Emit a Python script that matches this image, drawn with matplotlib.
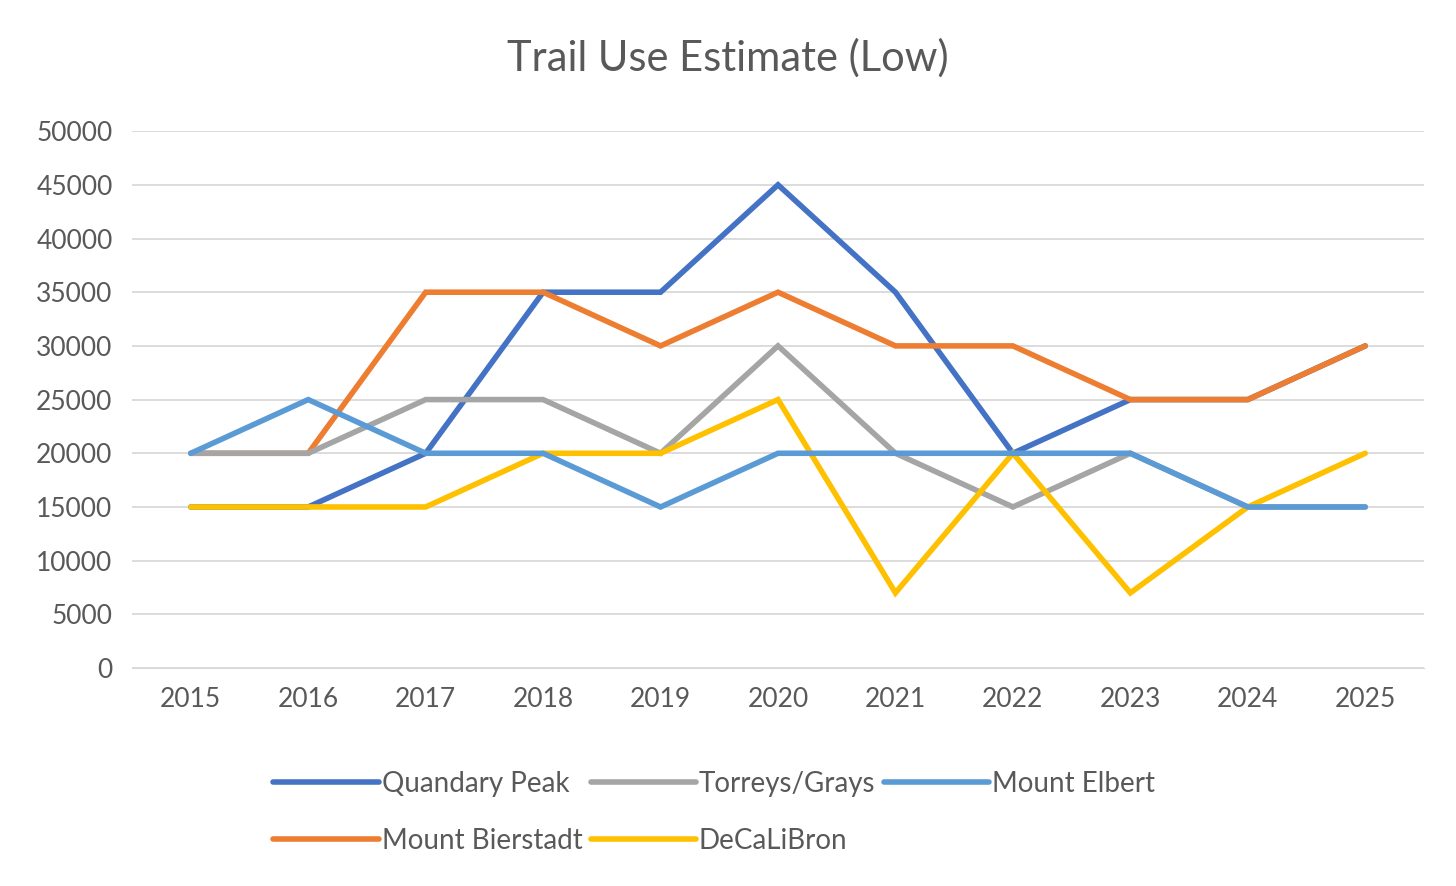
import matplotlib.pyplot as plt

years = list(range(2015, 2026))
quandary = [15000, 15000, 20000, 35000, 35000, 45000, 35000, 20000, 25000, 25000, 30000]
bierstadt = [20000, 20000, 35000, 35000, 30000, 35000, 30000, 30000, 25000, 25000, 30000]
torreys = [20000, 20000, 25000, 25000, 20000, 30000, 20000, 15000, 20000, 15000, 15000]
decalibron = [15000, 15000, 15000, 20000, 20000, 25000, 7000, 20000, 7000, 15000, 20000]
elbert = [20000, 25000, 20000, 20000, 15000, 20000, 20000, 20000, 20000, 15000, 15000]

series = [
    ("Quandary Peak", quandary, "#4472C4"),
    ("Mount Bierstadt", bierstadt, "#ED7D31"),
    ("Torreys/Grays", torreys, "#A5A5A5"),
    ("DeCaLiBron", decalibron, "#FFC000"),
    ("Mount Elbert", elbert, "#5B9BD5"),
]

plt.rcParams['font.family'] = ['Lato', 'DejaVu Sans']
fig = plt.figure(figsize=(14.56, 8.86), dpi=100)
ax = fig.add_axes([0.0907, 0.246, 0.8873, 0.606])

for name, vals, col in series:
    ax.plot(years, vals, color=col, lw=4, label=name, solid_capstyle='round', solid_joinstyle='miter')

ax.set_xlim(2014.5, 2025.5)
ax.set_ylim(0, 50000)
ax.set_yticks(range(0, 50001, 5000))
ax.set_xticks(years)
ax.grid(axis='y', color='#D9D9D9', lw=1.3)
ax.set_axisbelow(True)
for s in ['top', 'right', 'left']:
    ax.spines[s].set_visible(False)
ax.spines['bottom'].set_color('#D9D9D9')
ax.tick_params(length=0, labelsize=19, colors='#595959', pad=14)

fig.text(0.5, 0.935, "Trail Use Estimate (Low)", ha='center', va='center', fontsize=30, color='#595959')

fig.legend(loc='upper left', bbox_to_anchor=(0.18, 0.145 + 0.0), ncol=3, frameon=False,
           fontsize=20, labelcolor='#595959', handlelength=3.8, handletextpad=0.1,
           columnspacing=0.3, borderaxespad=0, labelspacing=1.1,
           bbox_transform=fig.transFigure)
# legend row 1 at y~785 px; adjust anchor
fig.legends[0].set_bbox_to_anchor((0.18, 1 - 760 / 886), transform=fig.transFigure)

fig.savefig("out.png", dpi=100)
